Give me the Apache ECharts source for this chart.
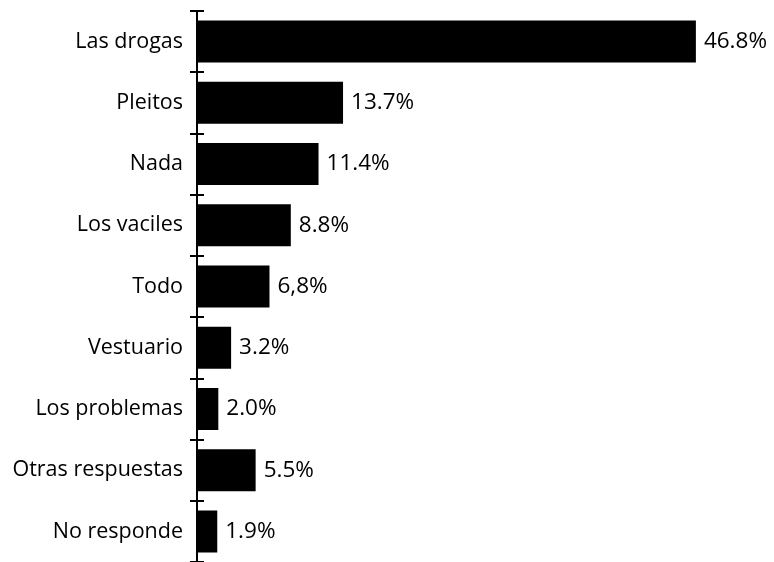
<!DOCTYPE html>
<html>
<head>
<meta charset="utf-8">
<script src="https://cdn.jsdelivr.net/npm/echarts@6/dist/echarts.min.js"></script>
<style>
  html, body { margin: 0; padding: 0; background: #fff; }
  #chart { width: 774px; height: 562px; }
</style>
</head>
<body>
<div id="chart"></div>
<script>
// categories from top to bottom
var categories = ['Las drogas', 'Pleitos', 'Nada', 'Los vaciles', 'Todo',
    'Vestuario', 'Los problemas', 'Otras respuestas', 'No responde'];
var values = [46.8, 13.7, 11.4, 8.8, 6.8, 3.2, 2.0, 5.5, 1.9];
var valueLabels = ['46.8%', '13.7%', '11.4%', '8.8%', '6,8%', '3.2%', '2.0%', '5.5%', '1.9%'];

var myChart = echarts.init(document.getElementById('chart'));

var option = {
    animation: false,
    grid: {
        left: 197,
        right: 44,
        top: 11,
        bottom: -1
    },
    xAxis: {
        type: 'value',
        min: 0,
        max: 50,
        show: false
    },
    yAxis: [
        {
            type: 'category',
            inverse: true,
            data: categories,
            axisLine: { show: true, lineStyle: { color: '#000', width: 2 } },
            axisTick: { show: true, length: 7, lineStyle: { color: '#000', width: 2 } },
            axisLabel: {
                margin: 14,
                color: '#000',
                fontFamily: 'Open Sans',
                fontSize: 21.5
            }
        },
        {
            type: 'category',
            inverse: true,
            position: 'left',
            data: categories,
            axisLine: { show: false },
            axisTick: { show: true, inside: true, length: 7, lineStyle: { color: '#000', width: 2 } },
            axisLabel: { show: false }
        }
    ],
    series: [
        {
            type: 'bar',
            data: values,
            barWidth: 42,
            itemStyle: { color: '#000' },
            label: {
                show: true,
                position: 'right',
                distance: 8,
                color: '#000',
                fontFamily: 'Open Sans',
                fontSize: 22.5,
                formatter: function (p) {
                    return valueLabels[p.dataIndex];
                }
            }
        }
    ]
};

myChart.setOption(option);
</script>
</body>
</html>
